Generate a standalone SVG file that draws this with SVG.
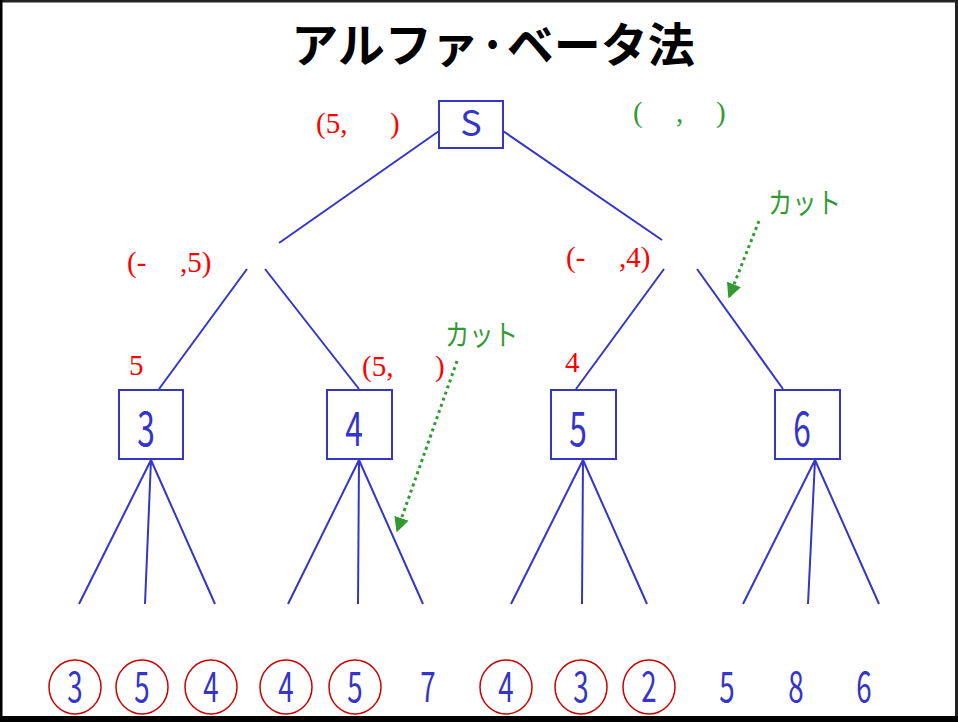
<svg xmlns="http://www.w3.org/2000/svg" width="958" height="722" viewBox="0 0 958 722">
<defs>
<style>
.ln{stroke:#3535c8;stroke-width:2;fill:none}
.box{stroke:#3535c8;stroke-width:2;fill:#fff}
.nd{font-family:"Noto Sans CJK JP","Noto Sans",sans-serif;fill:#3535c8;text-anchor:middle}
.rd{font-family:"Liberation Serif",serif;fill:#ff0000;font-size:29px}
.gr{font-family:"Liberation Serif",serif;fill:#339933;font-size:29px}
.cut{font-family:"Noto Sans CJK JP",sans-serif;fill:#339933;font-size:29px}
.leaf{stroke:#cc0000;stroke-width:1.5;fill:none}
.dot{stroke:#339933;stroke-width:3;stroke-dasharray:3 3.5;fill:none}
</style>
<marker id="ah" viewBox="0 0 10 10" refX="9" refY="5" markerWidth="5" markerHeight="5" orient="auto" markerUnits="strokeWidth">
<path d="M0,0 L10,5 L0,10 z" fill="#339933"/>
</marker>
</defs>
<rect x="0" y="0" width="958" height="722" fill="#fff"/>
<rect x="0" y="0" width="958" height="2.5" fill="#222"/>
<rect x="0" y="0" width="2.5" height="722" fill="#000"/>
<rect x="955" y="0" width="3" height="722" fill="#222"/>
<rect x="0" y="716" width="958" height="6" fill="#000"/>

<text x="493" y="62" font-family="'Noto Sans CJK JP',sans-serif" font-weight="bold" font-size="47" text-anchor="middle" fill="#000">アルファ·ベータ法</text>

<g id="connectors">
<line class="ln" x1="439" y1="131" x2="279" y2="243"/>
<line class="ln" x1="503" y1="131" x2="662" y2="240"/>
<line class="ln" x1="247" y1="269" x2="159" y2="389"/>
<line class="ln" x1="265" y1="269" x2="359" y2="389"/>
<line class="ln" x1="664" y1="269" x2="576" y2="389"/>
<line class="ln" x1="697" y1="269" x2="783" y2="389"/>
<path class="ln" d="M151,460 L79,604 M151,460 L145,604 M151,460 L215,604"/>
<path class="ln" d="M359,460 L288,604 M359,460 L358,604 M359,460 L423,604"/>
<path class="ln" d="M583,460 L511,604 M583,460 L582,604 M583,460 L647,604"/>
<path class="ln" d="M815,460 L743,604 M815,460 L808,604 M815,460 L879,604"/>
<line class="dot" x1="759" y1="221" x2="729" y2="297" marker-end="url(#ah)"/>
<line class="dot" x1="457" y1="361" x2="397" y2="531" marker-end="url(#ah)"/>
</g>

<g id="nodeS"><rect class="box" x="439" y="101" width="64" height="47"/><text class="nd" x="471" y="136" font-size="36">S</text></g>
<g id="node3"><rect class="box" x="119" y="390" width="64" height="69"/><text class="nd" transform="translate(146,446) scale(0.66,1)" font-size="48">3</text></g>
<g id="node4"><rect class="box" x="327" y="390" width="65" height="69"/><text class="nd" transform="translate(354,446) scale(0.66,1)" font-size="48">4</text></g>
<g id="node5"><rect class="box" x="551" y="390" width="65" height="69"/><text class="nd" transform="translate(578,446) scale(0.66,1)" font-size="48">5</text></g>
<g id="node6"><rect class="box" x="775" y="390" width="65" height="69"/><text class="nd" transform="translate(802,446) scale(0.66,1)" font-size="48">6</text></g>

<g id="labels">
<text class="rd" x="316" y="133">(5,</text><text class="rd" x="390" y="133">)</text>
<text class="gr" x="633" y="122">(</text><text class="gr" x="676" y="122">,</text><text class="gr" x="716" y="122">)</text>
<text class="rd" x="127" y="272">(-</text><text class="rd" x="180" y="272">,5)</text>
<text class="rd" x="566" y="267">(-</text><text class="rd" x="619" y="267">,4)</text>
<text class="rd" x="129" y="375">5</text>
<text class="rd" x="362" y="376">(5,</text><text class="rd" x="435" y="376">)</text>
<text class="rd" x="565" y="372">4</text>
<text class="cut" transform="translate(768,214) scale(0.84,1)">カット</text>
<text class="cut" transform="translate(445,346) scale(0.84,1)">カット</text>
</g>

<g id="leaves">
<ellipse class="leaf" cx="75" cy="687" rx="26" ry="27"/>
<ellipse class="leaf" cx="142" cy="687" rx="26" ry="27"/>
<ellipse class="leaf" cx="211" cy="687" rx="26" ry="27"/>
<ellipse class="leaf" cx="286" cy="687" rx="26" ry="27"/>
<ellipse class="leaf" cx="355" cy="687" rx="26" ry="27"/>
<ellipse class="leaf" cx="506" cy="687" rx="26" ry="27"/>
<ellipse class="leaf" cx="581" cy="687" rx="26" ry="27"/>
<ellipse class="leaf" cx="649" cy="687" rx="26" ry="27"/>
<text class="nd" transform="translate(75,702) scale(0.66,1)" font-size="42">3</text>
<text class="nd" transform="translate(142,702) scale(0.66,1)" font-size="42">5</text>
<text class="nd" transform="translate(211,702) scale(0.66,1)" font-size="42">4</text>
<text class="nd" transform="translate(286,702) scale(0.66,1)" font-size="42">4</text>
<text class="nd" transform="translate(355,702) scale(0.66,1)" font-size="42">5</text>
<text class="nd" transform="translate(428,702) scale(0.66,1)" font-size="42">7</text>
<text class="nd" transform="translate(506,702) scale(0.66,1)" font-size="42">4</text>
<text class="nd" transform="translate(581,702) scale(0.66,1)" font-size="42">3</text>
<text class="nd" transform="translate(649,702) scale(0.66,1)" font-size="42">2</text>
<text class="nd" transform="translate(727,702) scale(0.66,1)" font-size="42">5</text>
<text class="nd" transform="translate(796,702) scale(0.66,1)" font-size="42">8</text>
<text class="nd" transform="translate(864,702) scale(0.66,1)" font-size="42">6</text>
</g>
</svg>
